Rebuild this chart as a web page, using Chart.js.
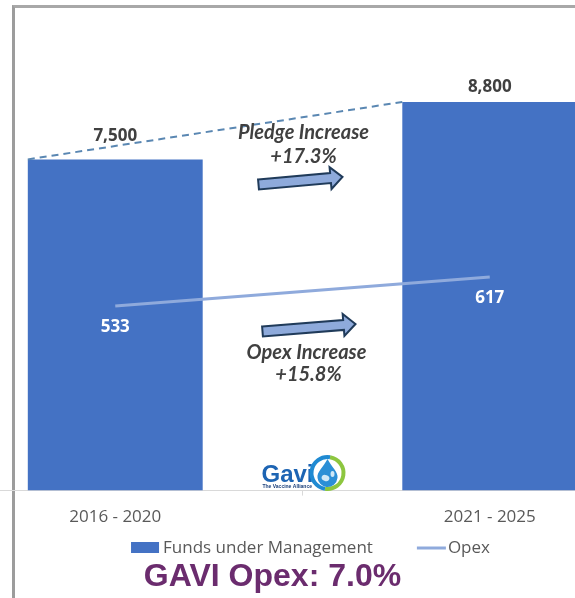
<!DOCTYPE html>
<html>
<head>
<meta charset="utf-8">
<script src="https://cdn.jsdelivr.net/npm/chart.js@4"></script>
<style>
  html, body { margin: 0; padding: 0; background: #fff; overflow: hidden; }
  #wrap { position: relative; width: 575px; height: 598px; overflow: hidden; }
  /* slide frame, cropped on the right and bottom */
  #frame { position: absolute; left: 12px; top: 5px; width: 620px; height: 700px;
           border-left: 3px solid #9c9c9c; border-top: 3px solid #a8a8a8; }
  /* the plot is wider than the window: both bars are cut at the edges */
  #chart { position: absolute; left: -72px; top: 0; }
</style>
</head>
<body>
<div id="wrap">
  <div id="frame"></div>
  <canvas id="chart" width="749" height="598"></canvas>
</div>
<script>
// data
const categories = ['2016 - 2020', '2021 - 2025'];
const fundsUnderManagement = [7500, 8800];
const opex = [533, 617];
const seriesNames = ['Funds under Management', 'Opex'];
const pledgeNote = ['Pledge Increase', '+17.3%'];
const opexNote = ['Opex Increase', '+15.8%'];
const headline = 'GAVI Opex: 7.0%';

const barBlue = '#4472c4';
const lineBlue = '#8faadc';
const textGrey = '#595959';
const noteGrey = '#404040';

const fmt = v => v.toLocaleString('en-US');

// block arrow from (x0,y0) to tip (x1,y1)
function blockArrow(ctx, x0, y0, x1, y1) {
    const shaft = 5, head = 11, headLen = 12;
    const len = Math.hypot(x1 - x0, y1 - y0);
    ctx.save();
    ctx.translate(x0, y0);
    ctx.rotate(Math.atan2(y1 - y0, x1 - x0));
    ctx.beginPath();
    ctx.moveTo(0, -shaft);
    ctx.lineTo(len - headLen, -shaft);
    ctx.lineTo(len - headLen, -head);
    ctx.lineTo(len, 0);
    ctx.lineTo(len - headLen, head);
    ctx.lineTo(len - headLen, shaft);
    ctx.lineTo(0, shaft);
    ctx.closePath();
    ctx.fillStyle = '#8eaadb';
    ctx.fill();
    ctx.lineWidth = 2;
    ctx.lineJoin = 'miter';
    ctx.strokeStyle = '#203b5a';
    ctx.stroke();
    ctx.restore();
}

function gaviLogo(ctx, x, y) {
    // word mark
    ctx.save();
    ctx.fillStyle = '#1d64b3';
    ctx.textAlign = 'left';
    ctx.textBaseline = 'alphabetic';
    ctx.font = 'bold 24px "Liberation Sans", Arial, sans-serif';
    ctx.fillText('Gavi', x, y);
    ctx.font = 'bold 5px "Liberation Sans", Arial, sans-serif';
    ctx.fillStyle = '#1a3f7a';
    ctx.fillText('The Vaccine Alliance', x + 1, y + 6);
    // emblem
    const cx = x + 66, cy = y - 9, r = 16;
    ctx.lineWidth = 4;
    ctx.strokeStyle = '#8dc63f';
    ctx.beginPath(); ctx.arc(cx, cy, r, -Math.PI * 0.45, Math.PI * 0.55); ctx.stroke();
    ctx.strokeStyle = '#1f8ad2';
    ctx.beginPath(); ctx.arc(cx, cy, r, Math.PI * 0.55, Math.PI * 1.55); ctx.stroke();
    // drop
    ctx.fillStyle = '#2b8fd6';
    ctx.beginPath();
    ctx.moveTo(cx, cy - 14);
    ctx.bezierCurveTo(cx + 4, cy - 6, cx + 11, cy - 1, cx + 10, cy + 5);
    ctx.arc(cx, cy + 4, 10, 0.1, Math.PI - 0.1);
    ctx.bezierCurveTo(cx - 11, cy - 1, cx - 4, cy - 6, cx, cy - 14);
    ctx.fill();
    ctx.fillStyle = '#cfe8f7';
    ctx.beginPath(); ctx.ellipse(cx - 2, cy + 5, 4, 3, 0.4, 0, Math.PI * 2); ctx.fill();
    ctx.beginPath(); ctx.ellipse(cx + 5, cy + 1, 2, 3, 0, 0, Math.PI * 2); ctx.fill();
    ctx.restore();
}

const overlay = {
    id: 'overlay',
    afterDatasetsDraw(chart) {
        const ctx = chart.ctx;
        const line = chart.getDatasetMeta(0).data;
        const bars = chart.getDatasetMeta(1).data;
        const mid = (bars[0].x + bars[1].x) / 2;

        // dashed line joining the bar tops
        ctx.save();
        ctx.strokeStyle = '#5a87b2';
        ctx.lineWidth = 2;
        ctx.setLineDash([7, 5]);
        ctx.beginPath();
        ctx.moveTo(bars[0].x - bars[0].width / 2, bars[0].y);
        ctx.lineTo(bars[1].x - bars[1].width / 2, bars[1].y);
        ctx.stroke();
        ctx.restore();

        // value labels
        ctx.save();
        ctx.textAlign = 'center';
        ctx.textBaseline = 'middle';
        ctx.font = 'bold 17px "Open Sans", sans-serif';
        const lift = [23, 15];
        ctx.fillStyle = noteGrey;
        bars.forEach((b, i) => ctx.fillText(fmt(fundsUnderManagement[i]), b.x, b.y - lift[i]));
        ctx.fillStyle = '#ffffff';
        line.forEach((p, i) => ctx.fillText(fmt(opex[i]), p.x, p.y + 21));
        ctx.restore();

        // notes and arrows
        ctx.save();
        ctx.fillStyle = noteGrey;
        ctx.textAlign = 'center';
        ctx.textBaseline = 'alphabetic';
        ctx.font = 'italic bold 20px Lato, sans-serif';
        ctx.fillText(pledgeNote[0], mid + 1, 139);
        ctx.fillText(pledgeNote[1], mid + 1, 163);
        ctx.fillText(opexNote[0], mid + 4, 359);
        ctx.fillText(opexNote[1], mid + 6, 381);
        ctx.restore();
        blockArrow(ctx, mid - 44, 184.5, mid + 40, 177);
        blockArrow(ctx, mid - 40, 331.5, mid + 53, 324);

        gaviLogo(ctx, mid - 41, 482);
    },
    afterDraw(chart) {
        const ctx = chart.ctx;
        const bars = chart.getDatasetMeta(1).data;
        const mid = (bars[0].x + bars[1].x) / 2;
        ctx.save();
        // legend
        ctx.font = '17px "Open Sans", sans-serif';
        ctx.textBaseline = 'middle';
        ctx.textAlign = 'left';
        const w0 = ctx.measureText(seriesNames[0]).width;
        const w1 = ctx.measureText(seriesNames[1]).width;
        const total = 28 + 4 + w0 + 44 + 29 + 2 + w1;
        let x = mid + 8 - total / 2;
        const ly = 548;
        ctx.fillStyle = barBlue;
        ctx.fillRect(x, ly - 6, 28, 11);
        x += 32;
        ctx.fillStyle = textGrey;
        ctx.fillText(seriesNames[0], x, ly);
        x += w0 + 44;
        ctx.strokeStyle = lineBlue;
        ctx.lineWidth = 3;
        ctx.beginPath(); ctx.moveTo(x, ly); ctx.lineTo(x + 29, ly); ctx.stroke();
        x += 31;
        ctx.fillText(seriesNames[1], x, ly);
        // headline
        ctx.fillStyle = '#6b2c6e';
        ctx.textAlign = 'center';
        ctx.textBaseline = 'alphabetic';
        ctx.font = 'bold 32px "Liberation Sans", Arial, sans-serif';
        ctx.fillText(headline, mid - 30, 586);
        ctx.restore();
    }
};

new Chart(document.getElementById('chart'), {
    type: 'bar',
    data: {
        labels: categories,
        datasets: [
            {
                type: 'line',
                label: seriesNames[1],
                data: opex,
                yAxisID: 'y2',
                borderColor: lineBlue,
                borderWidth: 3,
                pointRadius: 0,
                tension: 0,
                order: 0
            },
            {
                label: seriesNames[0],
                data: fundsUnderManagement,
                backgroundColor: barBlue,
                barPercentage: 0.467,
                categoryPercentage: 1,
                order: 1
            }
        ]
    },
    options: {
        responsive: false,
        animation: false,
        devicePixelRatio: 1,
        layout: { padding: { top: 49, bottom: 60 } },
        plugins: {
            legend: { display: false },
            tooltip: { enabled: false }
        },
        scales: {
            x: {
                grid: { drawOnChartArea: false, tickLength: 5, color: '#d9d9d9' },
                border: { color: '#d9d9d9' },
                ticks: { color: textGrey, font: { family: 'Open Sans', size: 17 }, padding: 11 }
            },
            y: { display: false, min: 0, max: 10000 },
            y2: { display: false, position: 'right', min: 0, max: 1275 }
        }
    },
    plugins: [overlay]
});
</script>
</body>
</html>
